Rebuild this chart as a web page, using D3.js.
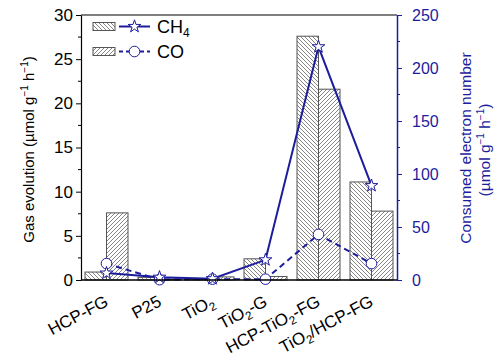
<!DOCTYPE html>
<html><head><meta charset="utf-8">
<script src="https://cdn.jsdelivr.net/npm/d3@7"></script>
<style>body{margin:0;background:#fff;} svg{display:block;font-family:"Liberation Sans",Arial,sans-serif;}</style>
</head><body>
<script>
const categories = ["HCP-FG","P25","TiO2","TiO2-G","HCP-TiO2-FG","TiO2/HCP-FG"];
const ch4Rate = [0.9, 0.3, 0.12, 2.4, 27.6, 11.1];
const coRate = [7.6, 0.1, 0.35, 0.4, 21.6, 7.8];
const ch4Electron = [6.5, 2.6, 1.2, 19, 220, 89];
const coElectron = [15.5, 0.3, 0.8, 0.8, 43, 15.5];
const leftTicks = [0,5,10,15,20,25,30];
const rightTicks = [0,50,100,150,200,250];

const W=496,H=359, L=81, R=397, T=15, B=280;
const blue="#1c1c9c", gray="#555";
const svg=d3.select("body").append("svg").attr("width",W).attr("height",H);
const defs=svg.append("defs");
function pat(id,d){
  const p=defs.append("pattern").attr("id",id).attr("patternUnits","userSpaceOnUse").attr("width",4).attr("height",4);
  p.append("rect").attr("width",4).attr("height",4).attr("fill","#fff");
  p.append("path").attr("d",d).attr("stroke","#666").attr("stroke-width",0.8);
}
pat("hb","M-1,-1 L5,5 M-1,3 L1,5 M3,-1 L5,1");
pat("hf","M-1,5 L5,-1 M-1,1 L1,-1 M3,5 L5,3");

const x=d3.scaleLinear().domain([-0.5,5.5]).range([L-1,R+1]);
const yL=d3.scaleLinear().domain([0,30]).range([B,T]);
const yR=d3.scaleLinear().domain([0,250]).range([B,T]);
const bw=21.5;
const idx=d3.range(categories.length);

// bars
svg.append("g").selectAll("rect").data(idx).join("rect")
  .attr("x",i=>x(i)-bw).attr("y",i=>yL(ch4Rate[i])).attr("width",bw).attr("height",i=>B-yL(ch4Rate[i]))
  .attr("fill","url(#hb)").attr("stroke",gray).attr("stroke-width",1);
svg.append("g").selectAll("rect").data(idx).join("rect")
  .attr("x",i=>x(i)).attr("y",i=>yL(coRate[i])).attr("width",bw).attr("height",i=>B-yL(coRate[i]))
  .attr("fill","url(#hf)").attr("stroke",gray).attr("stroke-width",1);

// lines
const lineCH4=d3.line().x(i=>x(i)).y(i=>yR(ch4Electron[i]));
const lineCO=d3.line().x(i=>x(i)).y(i=>yR(coElectron[i]));
svg.append("path").attr("d",lineCO(idx)).attr("fill","none").attr("stroke",blue).attr("stroke-width",2).attr("stroke-dasharray","6,4");
svg.append("path").attr("d",lineCH4(idx)).attr("fill","none").attr("stroke",blue).attr("stroke-width",2);
const star=d3.symbol().type(d3.symbolStar).size(50);
svg.append("g").selectAll("circle").data(idx).join("circle")
  .attr("cx",i=>x(i)).attr("cy",i=>yR(coElectron[i])).attr("r",5.3)
  .attr("fill","#fff").attr("stroke",blue).attr("stroke-width",1);
svg.append("g").selectAll("path").data(idx).join("path")
  .attr("d",star).attr("transform",i=>`translate(${x(i)},${yR(ch4Electron[i])})`)
  .attr("fill","#fff").attr("stroke",blue).attr("stroke-width",1);

// frame
svg.append("line").attr("x1",L).attr("x2",R).attr("y1",T).attr("y2",T).attr("stroke","#000").attr("stroke-width",1.2);
svg.append("line").attr("x1",L).attr("x2",R).attr("y1",B).attr("y2",B).attr("stroke","#000").attr("stroke-width",1.5);

// left axis
const gl=svg.append("g").attr("transform",`translate(${L},0)`)
  .call(d3.axisLeft(yL).tickValues(leftTicks).tickSize(5).tickSizeOuter(0).tickPadding(3));
gl.select(".domain").attr("stroke","#000").attr("stroke-width",1.2);
gl.selectAll("text").attr("font-size",17).attr("font-family","Liberation Sans, Arial").attr("fill","#000");
gl.selectAll(".minor").data(d3.range(2.5,30,5)).join("line").attr("class","minor")
  .attr("x1",-3).attr("x2",0).attr("y1",d=>yL(d)).attr("y2",d=>yL(d)).attr("stroke","#000");

// right axis
const gr=svg.append("g").attr("transform",`translate(${R},0)`)
  .call(d3.axisRight(yR).tickValues(rightTicks).tickSize(5).tickSizeOuter(0).tickPadding(10));
gr.select(".domain").attr("stroke",blue).attr("stroke-width",1.5);
gr.selectAll("line").attr("stroke",blue);
gr.selectAll("text").attr("font-size",16).attr("font-family","Liberation Sans, Arial").attr("fill",blue);
gr.selectAll(".minor").data(d3.range(25,250,50)).join("line").attr("class","minor")
  .attr("x1",0).attr("x2",3).attr("y1",d=>yR(d)).attr("y2",d=>yR(d)).attr("stroke",blue);

// x labels
function richText(sel,label,fs){
  const parts=label.split(/(TiO2)/).filter(s=>s.length);
  parts.forEach(p=>{
    if(p==="TiO2"){
      sel.append("tspan").text("TiO");
      sel.append("tspan").text("2").attr("font-size",fs*0.68).attr("dy",4);
      sel.append("tspan").text("\u200B").attr("dy",-4);
    } else sel.append("tspan").text(p);
  });
}
idx.forEach(i=>{
  const t=svg.append("text").attr("transform",`translate(${x(i)+3},${305}) rotate(-28)`)
    .attr("text-anchor","end").attr("font-size",17).attr("fill","#000");
  richText(t,categories[i],17);
});

// axis titles
const lt=svg.append("text").attr("transform",`translate(34,${(T+B)/2+2}) rotate(-90)`)
  .attr("text-anchor","middle").attr("font-size",15).attr("fill","#000");
lt.append("tspan").text("Gas evolution (\u00B5mol g");
lt.append("tspan").text("\u22121").attr("font-size",10).attr("dy",-6);
lt.append("tspan").text(" h").attr("dy",6);
lt.append("tspan").text("\u22121").attr("font-size",10).attr("dy",-6);
lt.append("tspan").text(")").attr("dy",6);

svg.append("text").attr("transform",`translate(471,148) rotate(-90)`)
  .attr("text-anchor","middle").attr("font-size",15.5).attr("fill",blue).text("Consumed electron number");
const rt2=svg.append("text").attr("transform",`translate(490,150) rotate(-90)`)
  .attr("text-anchor","middle").attr("font-size",15.5).attr("fill",blue);
rt2.append("tspan").text("(\u00B5mol g");
rt2.append("tspan").text("\u22121").attr("font-size",10).attr("dy",-6);
rt2.append("tspan").text(" h").attr("dy",6);
rt2.append("tspan").text("\u22121").attr("font-size",10).attr("dy",-6);
rt2.append("tspan").text(")").attr("dy",6);

// legend
const leg=[{fill:"url(#hb)",dash:null,mk:"star",label:"CH",sub:"4",y:26.5},
           {fill:"url(#hf)",dash:"4,3",mk:"circle",label:"CO",sub:null,y:51.5}];
leg.forEach(d=>{
  svg.append("rect").attr("x",93).attr("y",d.y-4).attr("width",22).attr("height",8)
    .attr("fill",d.fill).attr("stroke",gray);
  svg.append("line").attr("x1",119).attr("x2",150).attr("y1",d.y).attr("y2",d.y)
    .attr("stroke",blue).attr("stroke-width",2).attr("stroke-dasharray",d.dash);
  if(d.mk==="star") svg.append("path").attr("d",star).attr("transform",`translate(134.5,${d.y})`).attr("fill","#fff").attr("stroke",blue);
  else svg.append("circle").attr("cx",134.5).attr("cy",d.y).attr("r",5.3).attr("fill","#fff").attr("stroke",blue);
  const t=svg.append("text").attr("x",157).attr("y",d.y+6.5).attr("font-size",18).attr("fill","#000").text(d.label);
  if(d.sub) t.append("tspan").text(d.sub).attr("font-size",12).attr("dy",4);
});
</script>
</body></html>
